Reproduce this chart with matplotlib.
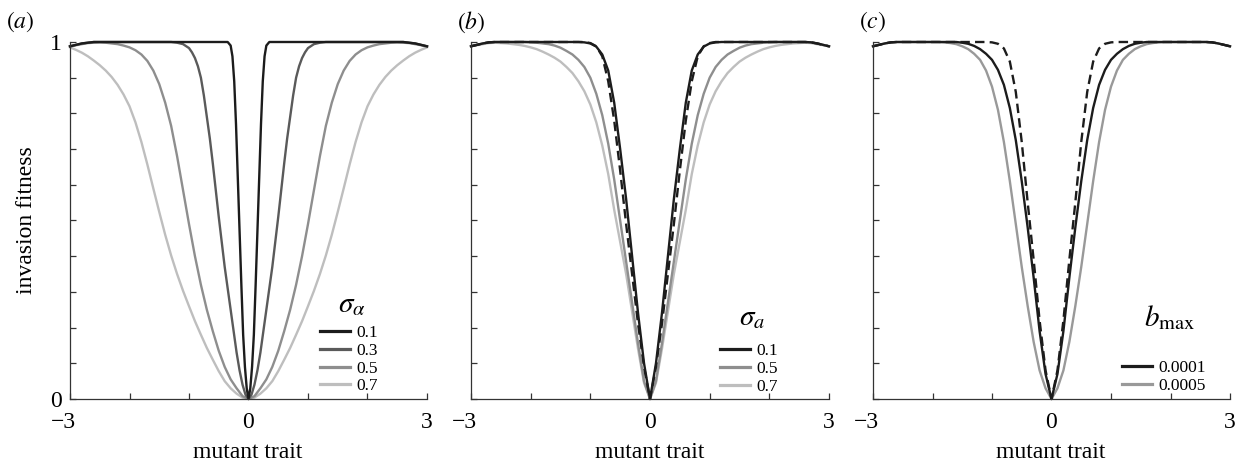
import numpy as np
import matplotlib.pyplot as plt
import matplotlib.transforms as mtrans
from matplotlib.lines import Line2D

plt.rcParams['font.family'] = ['Liberation Serif', 'DejaVu Serif']
plt.rcParams['mathtext.fontset'] = 'stix'

# common sampling grid of the mutant trait (step 0.1)
x61 = np.linspace(-3, 3, 61)

# ---- panel (a): sigma_alpha ----
a_x1 = [-3.0, -2.8, -2.6, -0.35, -0.3, -0.27, -0.24, -0.21, -0.18, -0.15, -0.12, -0.09, -0.06, -0.03,
        0.0, 0.03, 0.06, 0.09, 0.12, 0.15, 0.18, 0.21, 0.24, 0.27, 0.3, 0.35, 2.6, 2.8, 3.0]
a_y1 = [0.988, 0.996, 1.0, 1.0, 0.99, 0.96, 0.89, 0.77, 0.62, 0.47, 0.32, 0.18, 0.09, 0.03,
        0.0, 0.03, 0.09, 0.18, 0.32, 0.47, 0.62, 0.77, 0.89, 0.96, 0.99, 1.0, 1.0, 0.996, 0.988]

a_x3 = [-3.0, -2.8, -2.6, -1.3, -1.2, -1.1, -1.0, -0.95, -0.9, -0.85, -0.8, -0.75, -0.7, -0.65, -0.6,
        -0.55, -0.5, -0.45, -0.4, -0.35, -0.3, -0.25, -0.2, -0.15, -0.1, -0.05,
        0.0, 0.05, 0.1, 0.15, 0.2, 0.25, 0.3, 0.35, 0.4, 0.45, 0.5, 0.55, 0.6, 0.65, 0.7, 0.75,
        0.8, 0.85, 0.9, 0.95, 1.0, 1.1, 1.2, 1.3, 2.6, 2.8, 3.0]
a_y3 = [0.988, 0.996, 1.0, 1.0, 0.998, 0.994, 0.983, 0.971, 0.955, 0.932, 0.9, 0.85, 0.79, 0.73, 0.66,
        0.585, 0.51, 0.44, 0.37, 0.31, 0.25, 0.19, 0.13, 0.08, 0.04, 0.012,
        0.0, 0.012, 0.04, 0.08, 0.13, 0.19, 0.25, 0.31, 0.37, 0.44, 0.51, 0.585, 0.66, 0.73, 0.79, 0.85,
        0.9, 0.932, 0.955, 0.971, 0.983, 0.994, 0.998, 1.0, 1.0, 0.996, 0.988]

a_y5 = [0.987, 0.991, 0.994, 0.997, 0.998, 0.999, 0.998, 0.996, 0.994, 0.99,
        0.985, 0.977, 0.965, 0.947, 0.92, 0.882, 0.83, 0.765, 0.68, 0.585,
        0.49, 0.40, 0.32, 0.25, 0.19, 0.135, 0.09, 0.055, 0.03, 0.008,
        0.0,
        0.008, 0.03, 0.055, 0.09, 0.135, 0.19, 0.25, 0.32, 0.40, 0.49,
        0.585, 0.68, 0.765, 0.83, 0.882, 0.92, 0.947, 0.965, 0.977, 0.985,
        0.99, 0.994, 0.996, 0.998, 0.999, 0.998, 0.997, 0.994, 0.991, 0.987]
a_y7 = [0.985, 0.978, 0.97, 0.96, 0.948, 0.935, 0.92, 0.902, 0.88, 0.853,
        0.82, 0.775, 0.72, 0.657, 0.59, 0.524, 0.46, 0.402, 0.35, 0.303,
        0.26, 0.218, 0.18, 0.143, 0.11, 0.078, 0.05, 0.03, 0.015, 0.004,
        0.0,
        0.004, 0.015, 0.03, 0.05, 0.078, 0.11, 0.143, 0.18, 0.218, 0.26,
        0.303, 0.35, 0.402, 0.46, 0.524, 0.59, 0.657, 0.72, 0.775, 0.82,
        0.853, 0.88, 0.902, 0.92, 0.935, 0.948, 0.96, 0.97, 0.978, 0.985]

# ---- panel (b): sigma_a ----
b_y1 = [0.988, 0.992, 0.996, 0.999, 1.0, 1.0, 1.0, 1.0, 1.0, 1.0,
        1.0, 1.0, 1.0, 1.0, 1.0, 1.0, 1.0, 1.0, 1.0, 0.999,
        0.996, 0.987, 0.965, 0.92, 0.83, 0.70, 0.56, 0.40, 0.24, 0.10,
        0.0,
        0.10, 0.24, 0.40, 0.56, 0.70, 0.83, 0.92, 0.965, 0.987, 0.996,
        0.999, 1.0, 1.0, 1.0, 1.0, 1.0, 1.0, 1.0, 1.0, 1.0,
        1.0, 1.0, 1.0, 1.0, 1.0, 1.0, 0.999, 0.996, 0.992, 0.988]
b_yd = [0.988, 0.992, 0.996, 0.999, 1.0, 1.0, 1.0, 1.0, 1.0, 1.0,
        1.0, 1.0, 1.0, 1.0, 1.0, 1.0, 1.0, 1.0, 1.0, 1.0,
        0.997, 0.988, 0.96, 0.89, 0.78, 0.64, 0.49, 0.35, 0.21, 0.09,
        0.0,
        0.09, 0.21, 0.35, 0.49, 0.64, 0.78, 0.89, 0.96, 0.988, 0.997,
        1.0, 1.0, 1.0, 1.0, 1.0, 1.0, 1.0, 1.0, 1.0, 1.0,
        1.0, 1.0, 1.0, 1.0, 1.0, 1.0, 0.999, 0.996, 0.992, 0.988]
b_y5 = [0.988, 0.992, 0.996, 0.999, 1.0, 1.0, 1.0, 1.0, 1.0, 1.0,
        0.999, 0.998, 0.996, 0.994, 0.99, 0.984, 0.975, 0.965, 0.95, 0.93,
        0.90, 0.855, 0.795, 0.715, 0.615, 0.50, 0.385, 0.27, 0.155, 0.05,
        0.0,
        0.05, 0.155, 0.27, 0.385, 0.50, 0.615, 0.715, 0.795, 0.855, 0.90,
        0.93, 0.95, 0.965, 0.975, 0.984, 0.99, 0.994, 0.996, 0.998, 0.999,
        1.0, 1.0, 1.0, 1.0, 1.0, 1.0, 0.999, 0.996, 0.992, 0.988]
b_y7 = [0.988, 0.991, 0.994, 0.997, 0.998, 0.997, 0.996, 0.994, 0.992, 0.989,
        0.985, 0.98, 0.973, 0.965, 0.956, 0.945, 0.93, 0.913, 0.89, 0.862,
        0.825, 0.775, 0.71, 0.63, 0.53, 0.44, 0.35, 0.245, 0.14, 0.045,
        0.0,
        0.045, 0.14, 0.245, 0.35, 0.44, 0.53, 0.63, 0.71, 0.775, 0.825,
        0.862, 0.89, 0.913, 0.93, 0.945, 0.956, 0.965, 0.973, 0.98, 0.985,
        0.989, 0.992, 0.994, 0.996, 0.997, 0.998, 0.997, 0.994, 0.991, 0.988]

# ---- panel (c): b_max ----
c_y1 = [0.988, 0.992, 0.996, 0.999, 1.0, 1.0, 1.0, 1.0, 1.0, 1.0,
        1.0, 1.0, 1.0, 1.0, 1.0, 0.998, 0.995, 0.989, 0.98, 0.967,
        0.95, 0.922, 0.88, 0.815, 0.725, 0.61, 0.48, 0.34, 0.19, 0.07,
        0.0,
        0.07, 0.19, 0.34, 0.48, 0.61, 0.725, 0.815, 0.88, 0.922, 0.95,
        0.967, 0.98, 0.989, 0.995, 0.998, 1.0, 1.0, 1.0, 1.0, 1.0,
        1.0, 1.0, 1.0, 1.0, 1.0, 1.0, 0.999, 0.996, 0.992, 0.988]
c_yd = [0.988, 0.992, 0.996, 0.999, 1.0, 1.0, 1.0, 1.0, 1.0, 1.0,
        1.0, 1.0, 1.0, 1.0, 1.0, 1.0, 1.0, 1.0, 1.0, 1.0,
        0.999, 0.995, 0.982, 0.945, 0.86, 0.72, 0.55, 0.39, 0.22, 0.08,
        0.0,
        0.08, 0.22, 0.39, 0.55, 0.72, 0.86, 0.945, 0.982, 0.995, 0.999,
        1.0, 1.0, 1.0, 1.0, 1.0, 1.0, 1.0, 1.0, 1.0, 1.0,
        1.0, 1.0, 1.0, 1.0, 1.0, 1.0, 0.999, 0.996, 0.992, 0.988]
c_y5 = [0.988, 0.992, 0.996, 0.999, 1.0, 1.0, 1.0, 1.0, 1.0, 1.0,
        1.0, 1.0, 0.999, 0.997, 0.994, 0.988, 0.98, 0.967, 0.95, 0.92,
        0.875, 0.81, 0.72, 0.61, 0.49, 0.37, 0.26, 0.16, 0.08, 0.03,
        0.0,
        0.03, 0.08, 0.16, 0.26, 0.37, 0.49, 0.61, 0.72, 0.81, 0.875,
        0.92, 0.95, 0.967, 0.98, 0.988, 0.994, 0.997, 0.999, 1.0, 1.0,
        1.0, 1.0, 1.0, 1.0, 1.0, 1.0, 0.999, 0.996, 0.992, 0.988]

C_BLACK = '#1c1c1c'
C_DARK = '#5a5a5a'
C_MID = '#8e8e8e'
C_LIGHT = '#bebebe'
C_GREY = '#999999'
AXCOL = '#333333'

W, H = 1242, 466
fig = plt.figure(figsize=(W / 100, H / 100), dpi=100)


def make_axes(left, right):
    ax = fig.add_axes([left / W, (H - 399) / H, (right - left) / W, (399 - 42) / H])
    ax.set_xlim(-3, 3)
    ax.set_ylim(0, 1)
    for s in ('top', 'right'):
        ax.spines[s].set_visible(False)
    for s in ('left', 'bottom'):
        ax.spines[s].set_linewidth(0.9)
        ax.spines[s].set_color(AXCOL)
    ax.set_xticks([-3, 0, 3])
    ax.set_xticklabels(['\u22123', '0', '3'])
    ax.set_xticks([-2, -1, 1, 2], minor=True)
    ax.set_yticks([0, 1])
    ax.set_yticks(np.arange(1, 10) / 10, minor=True)
    ax.tick_params(which='both', direction='in', length=4, width=0.9, color=AXCOL, labelsize=17)
    ax.tick_params(axis='x', pad=9)
    ax.tick_params(axis='y', pad=6)
    # the reference sets "-3" a little to the left of its tick
    lab = ax.xaxis.get_majorticklabels()[0]
    lab.set_transform(lab.get_transform() + mtrans.ScaledTranslation(-5 / 72, 0, fig.dpi_scale_trans))
    return ax


def add_legend(ax, handles, labels, x0, ytop):
    ax.legend(handles, labels, loc='upper left', bbox_to_anchor=(x0 / W, 1 - ytop / H),
              bbox_transform=fig.transFigure, frameon=False, fontsize=12.5, borderpad=0,
              handlelength=1.75, handletextpad=0.35, labelspacing=0.09, borderaxespad=0)


LW = 1.7
HLW = 2.3
DASH = (0, (4, 2.2))

# (a)
ax = make_axes(70, 427)
ax.plot(x61, a_y7, color=C_LIGHT, lw=LW, clip_on=False)
ax.plot(x61, a_y5, color=C_MID, lw=LW, clip_on=False)
ax.plot(a_x3, a_y3, color=C_DARK, lw=LW, clip_on=False)
ax.plot(a_x1, a_y1, color=C_BLACK, lw=LW, clip_on=False)
hs = [Line2D([], [], color=c, lw=HLW) for c in (C_BLACK, C_DARK, C_MID, C_LIGHT)]
add_legend(ax, hs, ['0.1', '0.3', '0.5', '0.7'], 320, 325)
fig.text(352 / W, 1 - 305 / H, r'$\sigma_{\alpha}$', fontsize=21, ha='center', va='center')

# (b)
ax = make_axes(471, 829)
ax.set_yticklabels([])
ax.plot(x61, b_y7, color=C_LIGHT, lw=LW, clip_on=False)
ax.plot(x61, b_y5, color=C_MID, lw=LW, clip_on=False)
ax.plot(x61, b_yd, color=C_BLACK, lw=LW, ls=DASH, clip_on=False)
ax.plot(x61, b_y1, color=C_BLACK, lw=LW, clip_on=False)
hs = [Line2D([], [], color=c, lw=HLW) for c in (C_BLACK, C_MID, C_LIGHT)]
add_legend(ax, hs, ['0.1', '0.5', '0.7'], 720, 343)
fig.text(752 / W, 1 - 318 / H, r'$\sigma_{a}$', fontsize=21, ha='center', va='center')

# (c)
ax = make_axes(873, 1230)
ax.set_yticklabels([])
ax.plot(x61, c_y5, color=C_GREY, lw=LW, clip_on=False)
ax.plot(x61, c_yd, color=C_BLACK, lw=LW, ls=DASH, clip_on=False)
ax.plot(x61, c_y1, color=C_BLACK, lw=LW, clip_on=False)
hs = [Line2D([], [], color=c, lw=HLW) for c in (C_BLACK, C_GREY)]
add_legend(ax, hs, ['0.0001', '0.0005'], 1122, 360)
fig.text(1170 / W, 1 - 318 / H, r'$b_{\mathrm{max}}$', fontsize=21, ha='center', va='center')

# labels
fig.text(27 / W, 1 - 220 / H, 'invasion fitness', rotation=90, fontsize=17, ha='center', va='center')
for cx in (248, 650, 1051):
    fig.text(cx / W, 1 - 452 / H, 'mutant trait', fontsize=17, ha='center', va='center')
for lx, lab in ((6, 'a'), (457, 'b'), (859, 'c')):
    fig.text(lx / W, 1 - 22 / H, r'$(' + lab + ')$', fontsize=17, ha='left', va='center')

fig.savefig('out.png', dpi=100)
